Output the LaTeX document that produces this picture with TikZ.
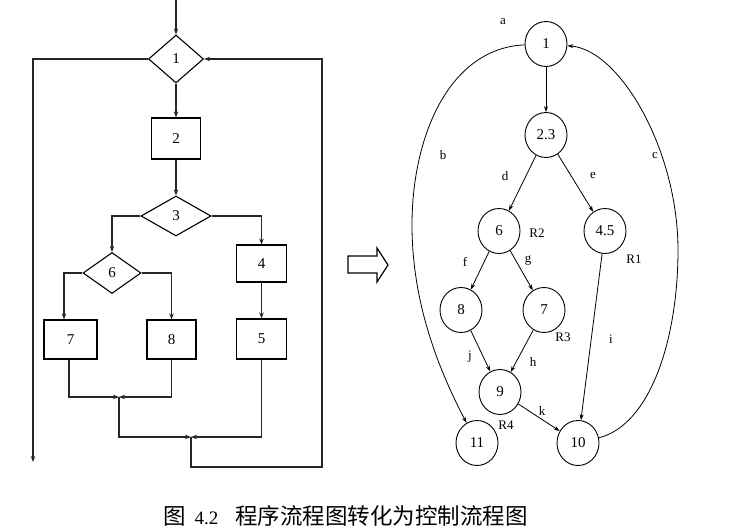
\documentclass[tikz,border=0pt]{standalone}
\usepackage{fontspec}
\setmainfont{Liberation Serif}
\newfontfamily\cjk{Noto Sans CJK SC}
\usetikzlibrary{shapes.geometric,arrows.meta}
\begin{document}
\begin{tikzpicture}[x=1pt,y=-1pt,
  flow/.style={line width=1.1pt,draw=black!85},
  arr/.style={-{Stealth[length=6pt,width=4.5pt]}},
  dec/.style={diamond,draw,line width=1.1pt,inner sep=0pt,font=\fontsize{15}{15}\selectfont},
  proc/.style={rectangle,draw,line width=1.1pt,inner sep=0pt,font=\fontsize{15}{15}\selectfont},
  cnode/.style={ellipse,draw,line width=0.9pt,minimum width=42pt,minimum height=45pt,inner sep=0pt,font=\fontsize{15}{15}\selectfont},
  gedge/.style={line width=0.8pt,-{Stealth[length=6pt,width=4pt]}},
  lbl/.style={font=\fontsize{13}{13}\selectfont,inner sep=0pt}]
\useasboundingbox (0,0) rectangle (737,529);
% ---------- left flowchart ----------
\node[dec,minimum width=55pt,minimum height=48pt] (d1) at (176,59) {1};
\node[proc,minimum width=49pt,minimum height=41pt] (b2) at (176,138.5) {2};
\node[dec,minimum width=70pt,minimum height=40pt] (d3) at (176,216) {3};
\node[dec,minimum width=58pt,minimum height=41pt] (d6) at (112,273) {6};
\node[proc,minimum width=50pt,minimum height=37pt] (b4) at (261.5,263.5) {4};
\node[proc,minimum width=50pt,minimum height=40pt] (b5) at (261.5,339) {5};
\node[proc,minimum width=53pt,minimum height=39pt] (b7) at (70.5,339.5) {7};
\node[proc,minimum width=49pt,minimum height=39pt] (b8) at (171.5,339.5) {8};
\coordinate (top) at (176,0);
\coordinate (exit) at (33,462);
\coordinate (j1) at (119,397);
\coordinate (j2) at (191,437);
\draw[flow,arr] (top) -- (d1.north);
\draw[flow,arr] (d1.west) -| (exit);
\draw[flow,arr] (d1.south) -- (b2.north);
\draw[flow,arr] (b2.south) -- (d3.north);
\draw[flow,arr] (d3.west) -| (d6.north);
\draw[flow,arr] (d3.east) -| (b4.north);
\draw[flow,arr] (b4.south) -- (b5.north);
\draw[flow,arr] (d6.west) -| (b7.north -| 64,0);
\draw[flow,arr] (d6.east) -| (b8.north);
\draw[flow,arr] (b7.south -| 69,0) |- (j1);
\draw[flow,arr] (b8.south) |- (j1);
\draw[flow,arr] (j1) |- (j2);
\draw[flow,arr] (b5.south) |- (j2);
\draw[flow,arr] (j2) -- (191,467) -- (322,467) |- (d1.east);
% ---------- hollow arrow ----------
\draw[line width=1.2pt,line join=miter]
  (348,256) -- (377,256) -- (377,248) -- (388,265) -- (377,282) -- (377,273) -- (348,273) -- cycle;
% ---------- control flow graph ----------
\node[cnode] (n1) at (546,44) {1};
\node[cnode] (n23) at (546,135) {2.3};
\node[cnode] (n6) at (499,231) {6};
\node[cnode] (n45) at (605,231) {4.5};
\node[cnode] (n8) at (461,310) {8};
\node[cnode] (n7) at (544,310) {7};
\node[cnode] (n9) at (500,392) {9};
\node[cnode] (n11) at (477,443) {11};
\node[cnode] (n10) at (578,443) {10};
\coordinate (bm) at (412,225);
\coordinate (cm) at (678,250);
\draw[gedge] (n1) -- (n23);
\draw[gedge] (n23) -- (n6);
\draw[gedge] (n23) -- (n45);
\draw[gedge] (n6) -- (n8);
\draw[gedge] (n6) -- (n7);
\draw[gedge] (n8) -- (n9);
\draw[gedge] (n7) -- (n9);
\draw[gedge] (n9) -- (n10);
\draw[gedge] (n45) -- (n10);
\draw[gedge] (n1) .. controls (450,48) and (412,135) .. (bm)
  .. controls (412,305) and (440,372) .. (n11);
\draw[gedge] (n10) .. controls (650,425) and (678,340) .. (cm)
  .. controls (678,150) and (620,50) .. (n1);
\node[lbl] (la) at (503,22) {a};
\node[lbl] (lb) at (443,155) {b};
\node[lbl] (lc) at (655,156) {c};
\node[lbl] (ld) at (505,176) {d};
\node[lbl] (le) at (593,176) {e};
\node[lbl] (lf) at (465,262) {f};
\node[lbl] (lg) at (528,261) {g};
\node[lbl] (lr2) at (537,233) {R2};
\node[lbl] (lr1) at (634,259) {R1};
\node[lbl] (lr3) at (563,337) {R3};
\node[lbl] (li) at (611,339) {i};
\node[lbl] (lj) at (470,357) {j};
\node[lbl] (lh) at (533,362) {h};
\node[lbl] (lk) at (542,411) {k};
\node[lbl] (lr4) at (506,425) {R4};
% ---------- caption ----------
\node[inner sep=0pt,anchor=west] (cap) at (163,516)
  {\fontsize{22.5}{22.5}\selectfont{\cjk 图}\hspace{9pt}\fontsize{19}{19}\selectfont 4.2\hspace{17pt}\fontsize{22.5}{22.5}\selectfont{\cjk 程序流程图转化为控制流程图}};
\end{tikzpicture}
\end{document}
